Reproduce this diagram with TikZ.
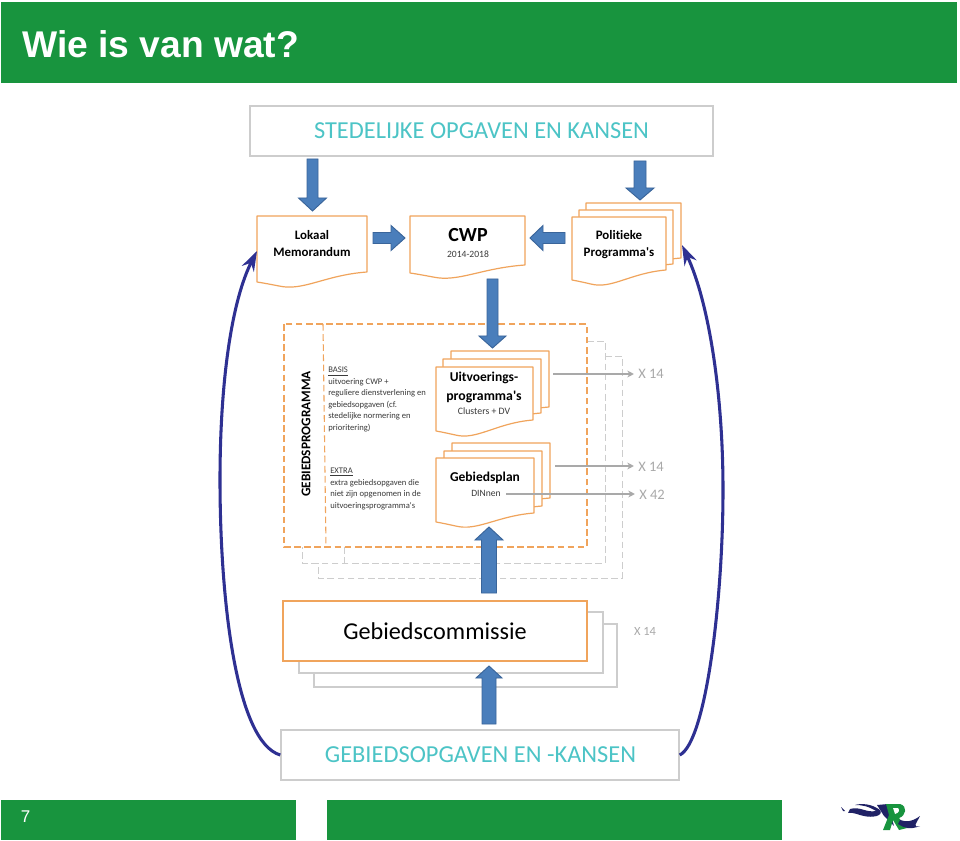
\documentclass[tikz,border=0pt]{standalone}
\usepackage{fontspec}
\setmainfont{Carlito}
\newfontfamily\car{Carlito}[Ligatures=NoCommon]
\newfontfamily\arialf{Liberation Sans}
\AtBeginDocument{\car}
\usetikzlibrary{arrows.meta}
\definecolor{hdrgreen}{HTML}{18943E}
\definecolor{sheet}{HTML}{F0A45C}
\definecolor{boxgrey}{HTML}{CDCDCD}
\definecolor{teal}{HTML}{4CC4C6}
\definecolor{blockfill}{HTML}{4A7EBB}
\definecolor{blockline}{HTML}{3A659A}
\definecolor{curve}{HTML}{2E3092}
\definecolor{xgrey}{HTML}{A9A9A9}
\definecolor{smalltxt}{HTML}{3A3A3A}
\newcommand\px[1]{\fontsize{\fpeval{#1*0.75}}{\fpeval{#1*0.9}}\selectfont}
% \sheetpath{x0}{y0}{x1}{ybottom right}{ybottom left}
\newcommand\sheetpath[5]{%
  \draw[sheetline] (#1,#2) -- (#3,#2) -- (#3,#4)
    .. controls ({#1+0.62*(#3-#1)},{#4+3}) and ({#1+0.42*(#3-#1)},{#5+9.5}) .. ({#1+0.2*(#3-#1)},{#5+4})
    .. controls ({#1+0.13*(#3-#1)},{#5+2.5}) and ({#1+0.06*(#3-#1)},{#5+1}) .. (#1,#5) -- cycle;}
% \vblock{cx}{ystart}{yneck}{ytip}{half shaft}{half head}
\newcommand\vblock[6]{%
  \draw[blockarrow] ({#1-#5},#2) -- ({#1-#5},#3) -- ({#1-#6},#3) -- (#1,#4) -- ({#1+#6},#3) -- ({#1+#5},#3) -- ({#1+#5},#2) -- cycle;}
% \hblock{cy}{xstart}{xneck}{xtip}{half shaft}{half head}
\newcommand\hblock[6]{%
  \draw[blockarrow] (#2,{#1-#5}) -- (#3,{#1-#5}) -- (#3,{#1-#6}) -- (#4,#1) -- (#3,{#1+#6}) -- (#3,{#1+#5}) -- (#2,{#1+#5}) -- cycle;}
\tikzset{
  sheetline/.style={draw=sheet,fill=white,line width=0.9pt,line join=round},
  blockarrow/.style={draw=blockline,fill=blockfill,line width=0.7pt,line join=miter},
  greybox/.style={draw=boxgrey,fill=white,line width=1.1pt,inner sep=0pt},
  backbox/.style={draw=boxgrey,fill=white,line width=0.8pt},
  orangedash/.style={draw=sheet,line width=0.8pt,dash pattern=on 5pt off 2.6pt},
  greydash/.style={draw=boxgrey,line width=0.7pt,dash pattern=on 5pt off 2.6pt},
  bigcap/.style={text=teal,inner sep=0pt},
  doctitle/.style={inner sep=0pt,text=black,font=\bfseries\px{12.9}},
  xlabel/.style={inner sep=0pt,text=xgrey},
  greyarrow/.style={draw=xgrey,line width=2pt,shorten >=3pt,-{Stealth[length=5pt,width=5pt]}},
  bluecurve/.style={draw=curve,line width=2.3pt,-{Stealth[length=15pt,width=10pt,inset=5pt]}},
  smallnote/.style={inner sep=0pt,anchor=north west,align=left,text=smalltxt,font=\fontsize{6.45}{8.6}\selectfont},
}
\begin{document}
\begin{tikzpicture}[x=0.75pt,y=-0.75pt]
\useasboundingbox (0,0) rectangle (960,841);
\fill[white] (0,0) rectangle (960,841);
% header and footer
\fill[hdrgreen] (1,2) rectangle (957,83);
\node[anchor=base west,inner sep=0pt,text=white,font=\arialf\bfseries\px{37.2}] (title) at (22,58) {Wie is van wat?};
\fill[hdrgreen] (1,800) rectangle (296,840);
\fill[hdrgreen] (327,800) rectangle (782,840);
\node[anchor=center,inner sep=0pt,text=white,font=\arialf\px{17}] (pageno) at (25.5,817) {7};
% logo
\fill[curve!70!black] (841,807) -- (845,811) -- (843,811) -- cycle;
\fill[curve!70!black] (850,809) .. controls (860,806) and (866,813) .. (876,811) .. controls (868,806) and (862,805) .. (855,805) .. controls (862,803) and (872,804) .. (880,810) .. controls (884,816) and (872,818) .. (864,816) .. controls (858,815) and (854,812) .. (848,813) -- cycle;
\fill[curve!70!black] (877,805) -- (888,804) -- (894,826) -- (884,816) -- cycle;
\fill[hdrgreen] (886,804) -- (900,804) .. controls (908,806) and (906,816) .. (899,818) -- (907,828) -- (899,830) -- (893,820) -- (890,830) -- (883,830) -- (889,815) -- cycle;
\fill[white] (893,808) -- (898,808) .. controls (900,810) and (899,813) .. (895,814) -- cycle;
\fill[curve!70!black] (900,820) .. controls (906,822) and (912,822) .. (920,816) .. controls (916,824) and (912,828) .. (920,826) .. controls (910,830) and (904,828) .. (898,824) -- cycle;
% top boxes
\node[greybox,minimum width=347.25pt,minimum height=37.5pt] (sted) at (481.5,131) {};
\node[bigcap,font=\px{24.4}] (stedtxt) at (481.5,131) {STEDELIJKE OPGAVEN EN KANSEN};
% documents, top row
\sheetpath{257}{216}{367}{272}{282}
\node[doctitle] (lokaal) at (312,235) {Lokaal};
\node[doctitle] (memo) at (312,252) {Memorandum};
\sheetpath{410}{216}{525}{265}{273}
\node[inner sep=0pt,font=\bfseries\px{20}] (cwp) at (468,235) {CWP};
\node[inner sep=0pt,text=smalltxt,font=\px{9.6}] (cwpyr) at (468,254) {2014-2018};
\sheetpath{586}{203}{681}{258}{262}
\sheetpath{579}{210}{673}{264}{270}
\sheetpath{572}{217}{666}{270}{280}
\node[doctitle] (polit) at (619,235) {Politieke};
\node[doctitle] (progr) at (619,253) {Programma's};
% block arrows, top
\vblock{312.5}{159}{198}{211}{5.5}{14}
\vblock{640}{161}{188}{200}{6}{14}
\hblock{238}{373}{391}{405}{5.5}{12.5}
\hblock{238}{565}{543}{530}{5.5}{12.5}
% dashed frames
\draw[greydash] (587,341) -- (605,341) -- (605,563) -- (302,563) -- (302,547);
\draw[greydash] (344,547) -- (344,563);
\draw[greydash] (605,356) -- (622,356) -- (622,578) -- (318,578) -- (318,563);
\draw[orangedash] (284,324) rectangle (587,547);
\draw[orangedash] (323,324) -- (326,547);
\node[inner sep=0pt,rotate=90,font=\bfseries\px{13.3}] (gebprog) at (306,434) {GEBIEDSPROGRAMMA};
\node[smallnote] (basis) at (328,367) {\underline{BASIS}\\uitvoering CWP +\\reguliere dienstverlening en\\gebiedsopgaven (cf.\\stedelijke normering en\\prioritering)};
\node[smallnote] (extra) at (330,468) {\underline{EXTRA}\\extra gebiedsopgaven die\\niet zijn opgenomen in de\\uitvoeringsprogramma's};
% programme stacks
\sheetpath{451}{351}{549}{407}{411}
\sheetpath{443}{359}{541}{413}{420}
\sheetpath{436}{367}{533}{420}{431}
\node[doctitle,font=\bfseries\px{13.5}] (uitv1) at (484,378) {Uitvoerings-};
\node[doctitle,font=\bfseries\px{13.8}] (uitv2) at (484,397) {programma's};
\node[inner sep=0pt,text=smalltxt,font=\px{9.8}] (clusters) at (484,411) {Clusters + DV};
\sheetpath{452}{443}{550}{498}{502}
\sheetpath{444}{451}{542}{506}{512}
\sheetpath{436}{458}{534}{513}{522}
\node[doctitle,font=\bfseries\px{13.5}] (gplan) at (485,478) {Gebiedsplan};
\node[inner sep=0pt,text=smalltxt,font=\px{9.6}] (dinnen) at (486,493) {DINnen};
% x labels
\node[xlabel,font=\px{14.5}] (x14a) at (651,374) {X 14};
\node[xlabel,font=\px{14.5}] (x14b) at (651,466.5) {X 14};
\node[xlabel,font=\px{14.5}] (x42) at (652,495) {X 42};
\coordinate (ua) at (553,374);
\coordinate (ub) at (555,466);
\coordinate (uc) at (506,494);
\draw[greyarrow] (ua) -- (x14a.west |- ua);
\draw[greyarrow] (ub) -- (x14b.west |- ub);
\draw[greyarrow] (uc) -- (x42.west |- uc);
% block arrow cwp -> programmes
\vblock{492.5}{279}{336}{348}{5.5}{13.5}
% gebiedscommissie
\draw[backbox] (314,624) rectangle (617,687);
\draw[backbox] (299,612) rectangle (603,673);
\node[draw=sheet,fill=white,line width=1.1pt,minimum width=228pt,minimum height=45pt,inner sep=0pt] (gcbox) at (435,631) {};
\node[inner sep=0pt,font=\px{24.2}] (gctxt) at (435,631) {Gebiedscommissie};
\node[xlabel,font=\px{12.5}] (x14c) at (645,631) {X 14};
\vblock{489}{593}{540}{527}{7.5}{14}
\vblock{489}{724}{678}{666}{7}{13}
% bottom box
\node[greybox,minimum width=298.5pt,minimum height=37.5pt] (gebop) at (480,755) {};
\node[bigcap,font=\px{24.4}] (geboptxt) at (480.5,755) {GEBIEDSOPGAVEN EN -KANSEN};
% blue curves
\coordinate (lokaalin) at (257,251);
\coordinate (politin) at (682,245);
\draw[bluecurve] (gebop.west) .. controls (236,742) and (220,600) .. (220,480) .. controls (220,380) and (232,300) .. (lokaalin);
\draw[bluecurve] (gebop.east) .. controls (706,742) and (723,600) .. (723,490) .. controls (723,390) and (708,300) .. (politin);
\end{tikzpicture}
\end{document}
